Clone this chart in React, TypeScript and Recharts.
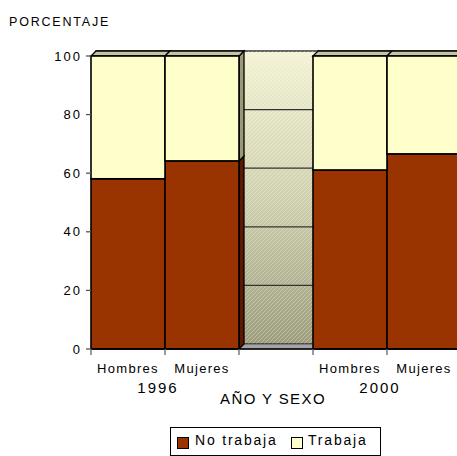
import { BarChart, Bar, XAxis, YAxis, ReferenceArea, Legend } from 'recharts';

// categories (the empty one is the gap between the two years)
const sexos = ['Hombres', 'Mujeres', '', 'Hombres', 'Mujeres'];
const anios = ['1996', '1996', '', '2000', '2000'];
const noTrabaja: (number | null)[] = [58.1, 64.2, null, 61.1, 66.6];
const trabaja: (number | null)[] = [41.9, 35.8, null, 38.9, 33.4];
const yTicks = [0, 20, 40, 60, 80, 100];

const FONT = '"Liberation Sans", Arial, sans-serif';
const DX = 5;
const DY = 5;

const data = sexos.map((s, i) => ({
  key: `${anios[i] || 'gap'}-${i}`,
  sexo: s,
  anio: anios[i],
  noTrabaja: noTrabaja[i],
  trabaja: trabaja[i],
}));

// 3D block: front face, plus top face for the top segment and side face when nothing stands to the right
const Block = (p: any) => {
  const { x, y, width: w, height: h, fill, index, sideFill, topFill } = p;
  if (x == null || !h || h <= 0) return null;
  const showSide = index === data.length - 1 || noTrabaja[index + 1] == null;
  return (
    <g>
      {showSide && (
        <polygon
          points={`${x + w},${y + h} ${x + w},${y} ${x + w + DX},${y - DY} ${x + w + DX},${y + h - DY}`}
          fill={sideFill}
          stroke='#000'
          strokeWidth={1.3}
        />
      )}
      {topFill && (
        <polygon
          points={`${x},${y} ${x + w},${y} ${x + w + DX},${y - DY} ${x + DX},${y - DY}`}
          fill={topFill}
          stroke='#000'
          strokeWidth={1.3}
        />
      )}
      <rect x={x} y={y} width={w} height={h} fill={fill} stroke='#000' strokeWidth={1.6} />
    </g>
  );
};

// back wall and floor, shifted by the depth
const Wall = (p: any) => {
  const { x, y, width: w, height: h } = p;
  if (x == null) return null;
  const lines = yTicks.slice(1, -1).map((t) => y - DY + h - (h * t) / 100);
  return (
    <g>
      <defs>
        <linearGradient id='wallGrad' x1='0' y1='0' x2='0' y2='1'>
          <stop offset='0%' stopColor='#f3f3d4' />
          <stop offset='50%' stopColor='#d0d0ae' />
          <stop offset='100%' stopColor='#9d9d7e' />
        </linearGradient>
        <pattern id='hatch' width='4' height='4' patternUnits='userSpaceOnUse'>
          <path d='M0,4 L4,0' stroke='#ffffff' strokeOpacity={0.3} strokeWidth={1} />
        </pattern>
      </defs>
      <rect x={x + DX} y={y - DY} width={w} height={h} fill='url(#wallGrad)' stroke='#000' strokeWidth={1.2} />
      <rect x={x + DX} y={y - DY} width={w} height={h} fill='url(#hatch)' />
      {lines.map((ly, i) => (
        <line key={i} x1={x + DX} x2={x + DX + w} y1={ly} y2={ly} stroke='#333' strokeWidth={1.3} />
      ))}
      <polygon
        points={`${x},${y + h} ${x + w},${y + h} ${x + w + DX},${y + h - DY} ${x + DX},${y + h - DY}`}
        fill='#a4a4a4'
        stroke='#555'
        strokeWidth={1}
      />
    </g>
  );
};

const SexTick = (p: any) => {
  const { x, y, payload } = p;
  const i = payload.index;
  const half = payload.offset ?? 37;
  return (
    <g>
      <line x1={x - half} x2={x - half} y1={y - 6} y2={y} stroke='#666' strokeWidth={1.3} />
      <text x={x} y={y + 18} textAnchor='middle' fontSize={13} letterSpacing={1.3} fontFamily={FONT} fill='#000'>
        {sexos[i]}
      </text>
      {sexos[i] === 'Hombres' && (
        <text x={x + 30} y={y + 38} textAnchor='middle' fontSize={15} letterSpacing={2} fontFamily={FONT} fill='#000'>
          {anios[i]}
        </text>
      )}
    </g>
  );
};

const LegendBox = () => (
  <div
    style={{
      position: 'relative',
      width: 211,
      height: 29,
      boxSizing: 'border-box',
      border: '1px solid #000',
      background: '#fff',
      fontFamily: FONT,
      fontSize: 14,
      letterSpacing: 1.8,
      color: '#000',
    }}
  >
    <div style={{ position: 'absolute', left: 6, top: 9, width: 12, height: 12, boxSizing: 'border-box', background: '#993300', border: '1px solid #000' }} />
    <div style={{ position: 'absolute', left: 24, top: 4, lineHeight: '16px', whiteSpace: 'nowrap' }}>No trabaja</div>
    <div style={{ position: 'absolute', left: 120, top: 9, width: 12, height: 12, boxSizing: 'border-box', background: '#ffffcc', border: '1px solid #000' }} />
    <div style={{ position: 'absolute', left: 137, top: 4, lineHeight: '16px', whiteSpace: 'nowrap' }}>Trabaja</div>
  </div>
);

export default function App() {
  return (
    <div style={{ position: 'fixed', left: 0, top: 0, width: 457, height: 456, overflow: 'hidden', background: '#fff' }}>
      <BarChart
        width={470}
        height={456}
        data={data}
        margin={{ top: 56, right: 9, bottom: 47, left: 51 }}
        barCategoryGap={0}
        barGap={0}
      >
        <ReferenceArea y1={0} y2={100} shape={<Wall />} ifOverflow='visible' />
        <XAxis
          dataKey='key'
          interval={0}
          height={60}
          tickSize={6}
          tickMargin={0}
          tickLine={false}
          axisLine={{ stroke: '#000', strokeWidth: 1.5 }}
          tick={<SexTick />}
          label={{
            value: 'AÑO Y SEXO',
            position: 'insideBottom',
            offset: 5,
            dx: -3,
            fontSize: 15,
            letterSpacing: 1.4,
            fontFamily: FONT,
            fill: '#000',
          }}
        />
        <YAxis
          width={40}
          domain={[0, 100]}
          ticks={yTicks}
          interval={0}
          tickSize={5}
          tickMargin={4}
          axisLine={false}
          tickLine={{ stroke: '#555', strokeWidth: 1.3 }}
          tick={{ fontSize: 13, letterSpacing: 2, fontFamily: FONT, fill: '#000' }}
          label={{
            content: () => (
              <text x={9} y={26} fontSize={12.5} letterSpacing={1.8} fontFamily={FONT} fill='#000'>
                PORCENTAJE
              </text>
            ),
          }}
        />
        <Bar
          dataKey='noTrabaja'
          name='No trabaja'
          stackId='a'
          fill='#993300'
          isAnimationActive={false}
          shape={(p: any) => <Block {...p} sideFill='#5c1a00' />}
        />
        <Bar
          dataKey='trabaja'
          name='Trabaja'
          stackId='a'
          fill='#ffffcc'
          isAnimationActive={false}
          shape={(p: any) => <Block {...p} sideFill='#9a9a78' topFill='#c4c4a2' />}
        />
        <Legend
          layout='vertical'
          align='center'
          verticalAlign='middle'
          content={() => <LegendBox />}
          wrapperStyle={{ left: 170, top: 427, bottom: 'auto', right: 'auto', width: 211, height: 29 }}
        />
      </BarChart>
    </div>
  );
}
